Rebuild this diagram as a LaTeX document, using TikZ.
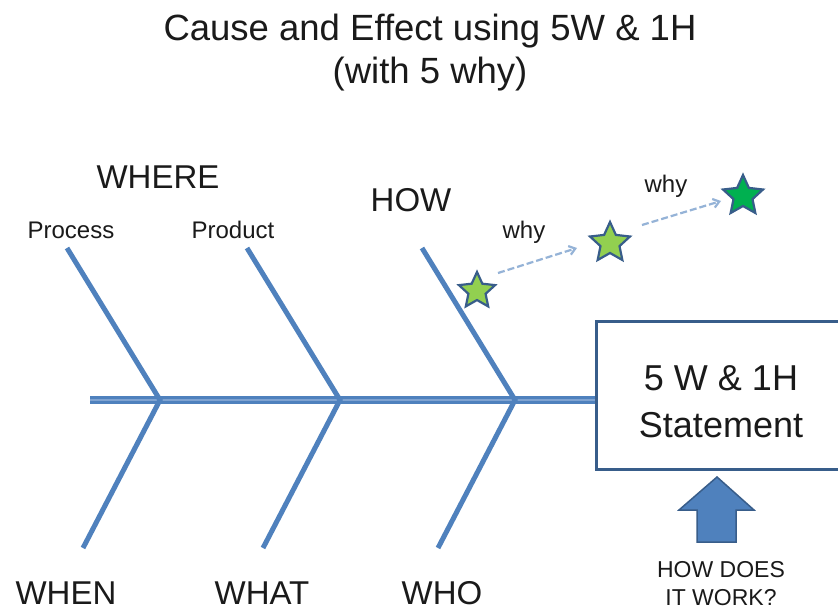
\documentclass[tikz,border=0pt]{standalone}
\usepackage{fontspec}
\setmainfont{Liberation Sans}
\usetikzlibrary{shapes.geometric,arrows.meta}
\definecolor{bone}{HTML}{4F81BD}
\definecolor{boneLight}{HTML}{7FA3D1}
\definecolor{edge}{HTML}{385D8A}
\definecolor{dashblue}{HTML}{95B3D7}
\definecolor{lightgreen}{HTML}{92D050}
\definecolor{darkgreen}{HTML}{00B050}
\definecolor{ink}{HTML}{1A1A1A}
\newcommand{\fs}[1]{\fontsize{#1}{#1}\selectfont}
\tikzset{
  bonestyle/.style={draw=bone, line width=5pt, line cap=butt},
  label/.style={text=ink, inner sep=0pt, align=center},
  starshape/.style={star, star points=5, star point ratio=2.1, minimum size=#1,
    inner sep=0pt, draw=edge, line width=2.2pt},
  whyarrow/.style={draw=dashblue, line width=2.2pt, dash pattern=on 7pt off 3pt,
    -{Straight Barb[length=6pt,width=9pt]}}
}
\begin{document}
\begin{tikzpicture}[x=1pt,y=-1pt]
\useasboundingbox (0,0) rectangle (838,613);
\fill[white] (0,0) rectangle (838,613);

% title
\node[label] (title1) at (430,31) {\fs{36.5}Cause and Effect using 5W \& 1H};
\node[label] (title2) at (430,74) {\fs{36.5}(with 5 why)};

% spine and bone junctions
\coordinate (tail) at (90,400);
\coordinate (j1) at (160,400);
\coordinate (j2) at (340,400);
\coordinate (j3) at (515,400);
\coordinate (u1) at (67,248);
\coordinate (u2) at (247,248);
\coordinate (u3) at (422,248);
\coordinate (d1) at (83,548);
\coordinate (d2) at (263,548);
\coordinate (d3) at (438,548);

% effect box
\node[draw=edge, line width=3pt, minimum width=243pt, minimum height=148pt,
      inner sep=0pt, anchor=north west] (effect) at (594.5,319.5) {};
\node[label] (eff1) at (721,378) {\fs{36}5 W \& 1H};
\node[label] (eff2) at (721,425) {\fs{36}Statement};

% spine, drawn as a banded line
\draw[draw=bone, line width=7.5pt] (tail) -- (tail -| effect.west);
\draw[draw=boneLight, line width=1.5pt] (tail) -- (tail -| effect.west);

% bones
\draw[bonestyle] (u1) -- (j1) -- (d1);
\draw[bonestyle] (u2) -- (j2) -- (d2);
\draw[bonestyle] (u3) -- (j3) -- (d3);

% bone labels
\node[label] (where) at (158,177) {\fs{33}WHERE};
\node[label] (process) at (71,230) {\fs{24}Process};
\node[label] (product) at (233,230) {\fs{24}Product};
\node[label] (how) at (411,200) {\fs{33}HOW};
\node[label] (when) at (66,593) {\fs{33}WHEN};
\node[label] (what) at (262,593) {\fs{33}WHAT};
\node[label] (who) at (442,593) {\fs{33}WHO};

% five-why chain
\node[starshape=38pt, fill=lightgreen] (s1) at (477,291) {};
\node[starshape=42pt, fill=lightgreen] (s2) at (610,243) {};
\node[starshape=42pt, fill=darkgreen] (s3) at (743,196) {};
\draw[whyarrow] (498,273) -- (577,248);
\draw[whyarrow] (642,225) -- (721,201);
\node[label] (why1) at (524,232) {\fs{24}why};
\node[label] (why2) at (666,186) {\fs{24}why};

% block arrow under the box
\draw[fill=bone, draw=edge, line width=1.5pt, line join=miter]
  (717,477) -- (754,510) -- (736,510) -- (736,542) -- (697,542) -- (697,510)
  -- (679,510) -- cycle;
\node[label] (howdoes) at (721,570) {\fs{23}HOW DOES};
\node[label] (itwork) at (721,598) {\fs{23}IT WORK?};
\end{tikzpicture}
\end{document}
